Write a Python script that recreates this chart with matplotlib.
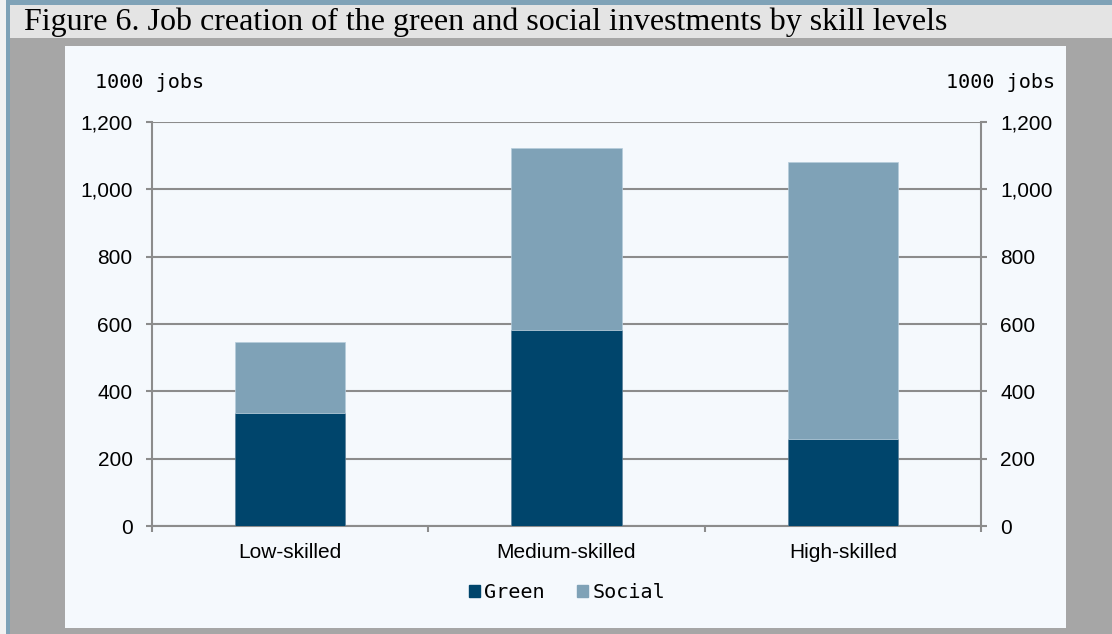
import matplotlib.pyplot as plt
import numpy as np
from matplotlib.patches import Rectangle, Patch

# data (1000 jobs)
categories = ['Low-skilled', 'Medium-skilled', 'High-skilled']
green = [336, 582, 258]
social = [212, 541, 823]
yticks = [0, 200, 400, 600, 800, 1000, 1200]

c_green = '#00456C'
c_social = '#7FA2B7'
c_grid = '#8C8C8C'

W, H = 1112, 634
fig = plt.figure(figsize=(W / 100, H / 100), dpi=100, facecolor='#A6A6A6')


def box(x0, y0, x1, y1, color):
    # pixel box, measured from the top-left corner
    fig.add_artist(Rectangle((x0 / W, 1 - y1 / H), (x1 - x0) / W, (y1 - y0) / H,
                             transform=fig.transFigure, facecolor=color,
                             edgecolor='none', zorder=0))


box(0, 0, 6, H, '#F2F2F2')
box(6, 0, 10, H, '#7FA2B7')
box(6, 0, W, 5, '#7FA2B7')
box(10, 5, W, 38, '#E4E4E4')
box(65, 46, 1066, 628, '#F5F9FD')

fig.text(24 / W, 1 - 22 / H,
         'Figure 6. Job creation of the green and social investments by skill levels',
         family='Liberation Serif', fontsize=23, va='center', ha='left')

ax = fig.add_axes([152 / W, 1 - 526 / H, (981 - 152) / W, (526 - 122) / H])
ax.patch.set_alpha(0)

x = np.arange(len(categories))
ax.bar(x, green, width=0.4, color=c_green, edgecolor='#5A7F99', linewidth=0.5, zorder=3)
ax.bar(x, social, width=0.4, bottom=green, color=c_social, edgecolor='#B5CCDB',
       linewidth=0.5, zorder=3)

ax.set_xlim(-0.5, 2.5)
ax.set_ylim(0, 1200)
ax.set_yticks(yticks)
ax.set_yticklabels([f'{v:,}' for v in yticks])
ax.yaxis.grid(True, color=c_grid, linewidth=1.5, zorder=1)
ax.set_axisbelow(True)

ax.set_xticks(x)
ax.set_xticklabels(categories)
ax.set_xticks([-0.5, 0.5, 1.5, 2.5], minor=True)
ax.tick_params(axis='x', which='major', length=0, pad=12, labelsize=15)
ax.tick_params(axis='x', which='minor', length=4.5, width=1.5, color=c_grid, direction='out')
ax.tick_params(axis='y', length=4.5, width=1.5, color=c_grid, pad=9.5, labelsize=15,
               right=True, labelright=True)
for lab in ax.get_xticklabels() + ax.get_yticklabels():
    lab.set_family('Liberation Sans')

for s in ['left', 'right', 'bottom']:
    ax.spines[s].set_color(c_grid)
    ax.spines[s].set_linewidth(1.5)
ax.spines['top'].set_visible(False)

fig.text(95 / W, 1 - 82 / H, '1000 jobs', family='DejaVu Sans Mono', fontsize=14.5,
         va='center', ha='left')
fig.text(1055 / W, 1 - 82 / H, '1000 jobs', family='DejaVu Sans Mono', fontsize=14.5,
         va='center', ha='right')

handles = [Patch(color=c_green, label='Green'), Patch(color=c_social, label='Social')]
fig.legend(handles=handles, loc='center', bbox_to_anchor=(567 / W, 1 - 593 / H), ncol=2,
           frameon=False, handlelength=0.55, handleheight=0.55, handletextpad=0.2,
           columnspacing=1.6, prop={'family': 'DejaVu Sans Mono', 'size': 14.5})

fig.savefig('out.png', dpi=100, facecolor=fig.get_facecolor())
